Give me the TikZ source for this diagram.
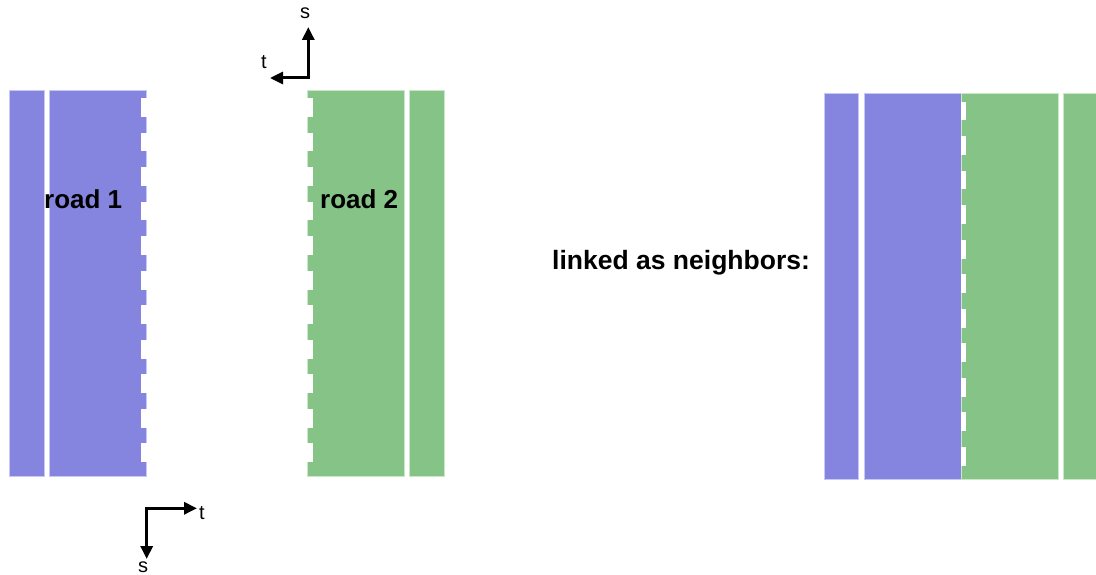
\documentclass[tikz,border=0pt]{standalone}
\usepackage{fontspec}
\setmainfont{Liberation Sans}
\usetikzlibrary{arrows.meta}
\definecolor{lanepurple}{RGB}{133,133,224}
\definecolor{lanegreen}{RGB}{133,195,134}
\definecolor{rimpurple}{RGB}{200,200,245}
\definecolor{rimgreen}{RGB}{200,232,200}
\tikzset{
  purplelane/.style={fill=lanepurple,draw=rimpurple,line width=0.8pt},
  greenlane/.style={fill=lanegreen,draw=rimgreen,line width=0.8pt},
  axisarrow/.style={line width=3pt,-{Triangle[length=13pt,width=12pt]}},
  roadlabel/.style={font=\bfseries\fontsize{26}{30}\selectfont,inner sep=0pt},
  linklabel/.style={font=\bfseries\fontsize{26.5}{30}\selectfont,inner sep=0pt},
  axislabel/.style={font=\fontsize{20}{23}\selectfont,inner sep=0pt}
}
\begin{document}
\begin{tikzpicture}[x=1pt,y=-1pt]
\useasboundingbox (0,0) rectangle (1096,575);
\fill[white] (0,0) rectangle (1096,575);

% ---- road 1 ----
\path[purplelane] (9,90) rectangle (44.3,476);
\path[purplelane] (49,90) rectangle (146,476);
\foreach \k in {0,...,10}{
  \fill[white] (141,{98.3+34.5*\k}) rectangle (146.5,{117+34.5*\k});
}
% ---- road 2 ----
\path[greenlane] (307.7,90) rectangle (404.3,476);
\path[greenlane] (409.7,90) rectangle (444.5,476);
\foreach \k in {0,...,10}{
  \fill[white] (307.2,{98.3+34.5*\k}) rectangle (312.5,{117+34.5*\k});
}

% ---- combined ----
\path[purplelane] (824,93.3) rectangle (858.7,479);
\path[purplelane] (864,93.3) rectangle (961,479);
\path[greenlane] (961,93.3) rectangle (1058.3,479);
\path[greenlane] (1063.7,93.3) rectangle (1100,479);
\foreach \k in {0,...,10}{
  \fill[white] (961,{101.7+34.5*\k}) rectangle (966,{120.5+34.5*\k});
}

% ---- labels ----
\node[roadlabel,anchor=base west] (r1) at (44,208.3) {road 1};
\node[roadlabel,anchor=base west] (r2) at (320,208.3) {road 2};
\node[linklabel,anchor=base west] (lk) at (552,269.3) {linked as neighbors:};

% ---- top axes ----
\coordinate (tc) at (308.3,78);
\coordinate (ts) at (308.3,27);
\coordinate (tt) at (270,78);
\draw[axisarrow] ([yshift=1.5pt]tc) -- (ts);
\draw[axisarrow] ([xshift=1.5pt]tc) -- (tt);
\node[axislabel] (tsl) at (305,13) {s};
\node[axislabel] (ttl) at (264,62) {t};

% ---- bottom axes ----
\coordinate (bc) at (146.7,508.3);
\coordinate (bt) at (197,508.3);
\coordinate (bs) at (146.7,559);
\draw[axisarrow] ([xshift=-1.5pt]bc) -- (bt);
\draw[axisarrow] ([yshift=-1.5pt]bc) -- (bs);
\node[axislabel] (btl) at (202,513) {t};
\node[axislabel] (bsl) at (143,567) {s};
\end{tikzpicture}
\end{document}
